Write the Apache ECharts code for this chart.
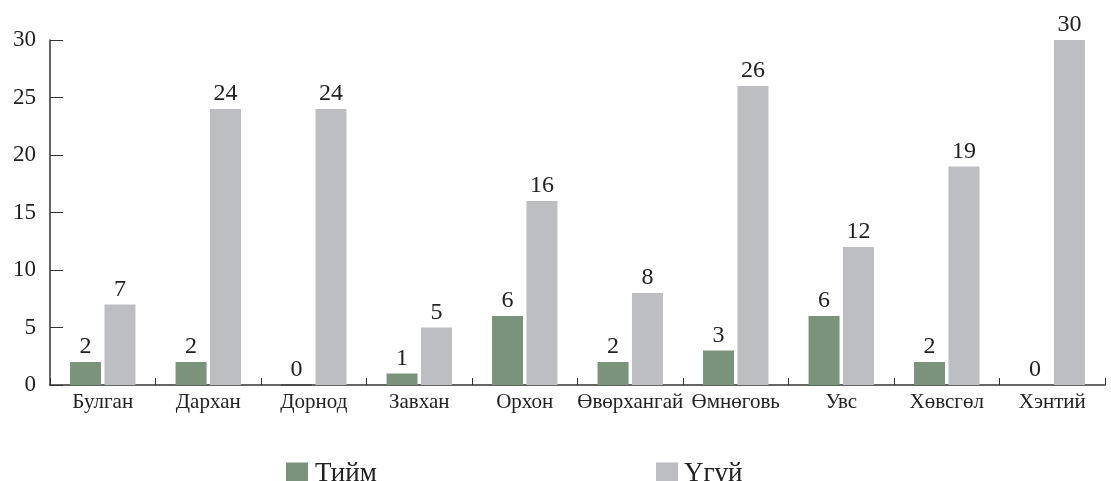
<!DOCTYPE html>
<html><head><meta charset="utf-8">
<script src="https://cdn.jsdelivr.net/npm/echarts@6/dist/echarts.min.js"></script>
<style>html,body{margin:0;padding:0;background:#fff}#c{width:1111px;height:481px}</style>
</head><body><div id="c"></div>
<script>
const categories = ['Булган','Дархан','Дорнод','Завхан','Орхон','Өвөрхангай','Өмнөговь','Увс','Хөвсгөл','Хэнтий'];
const yesValues = [2,2,0,1,6,2,3,6,2,0];
const noValues = [7,24,24,5,16,8,26,12,19,30];
const yTicks = {min:0, max:30, interval:5};
const font = 'Liberation Serif';
const chart = echarts.init(document.getElementById('c'));
const yesData = yesValues.map((v, i) => i === 2 ? {value: v, itemStyle: {borderColor: '#444', borderWidth: 1}} : v);
chart.setOption({
  animation:false,
  textStyle:{fontFamily:font},
  grid:{left:50,right:6,top:40,bottom:96},
  legend:[
    {data:['Тийм'],left:281,top:455,itemWidth:22,itemHeight:22,icon:'rect',
     textStyle:{fontFamily:font,fontSize:27,color:'#222',padding:[0,0,0,2]}},
    {data:['Үгүй'],left:651,top:455,itemWidth:22,itemHeight:22,icon:'rect',
     textStyle:{fontFamily:font,fontSize:27,color:'#222',padding:[0,0,0,1]}}
  ],
  xAxis:{type:'category',data:categories,
    axisLine:{lineStyle:{color:'#333',width:1.5}},
    axisTick:{show:true,inside:true,length:7,lineStyle:{color:'#333'}},
    axisLabel:{fontFamily:font,fontSize:21,color:'#222',margin:7,interval:0}},
  yAxis:{type:'value',min:yTicks.min,max:yTicks.max,interval:yTicks.interval,
    splitLine:{show:false},
    axisLine:{show:true,lineStyle:{color:'#333',width:1.5}},
    axisTick:{show:true,inside:true,length:13,lineStyle:{color:'#333'}},
    axisLabel:{fontFamily:font,fontSize:23,color:'#222',margin:14}},
  series:[
    {name:'Тийм',type:'bar',data:yesData,barWidth:31,barGap:'11%',
     itemStyle:{color:'#7b927b'},
     label:{show:true,position:'top',fontFamily:font,fontSize:24,color:'#222',distance:3}},
    {name:'Үгүй',type:'bar',data:noValues,barWidth:31,
     itemStyle:{color:'#bdbec2'},
     label:{show:true,position:'top',fontFamily:font,fontSize:24,color:'#222',distance:3}}
  ]
});
</script></body></html>
